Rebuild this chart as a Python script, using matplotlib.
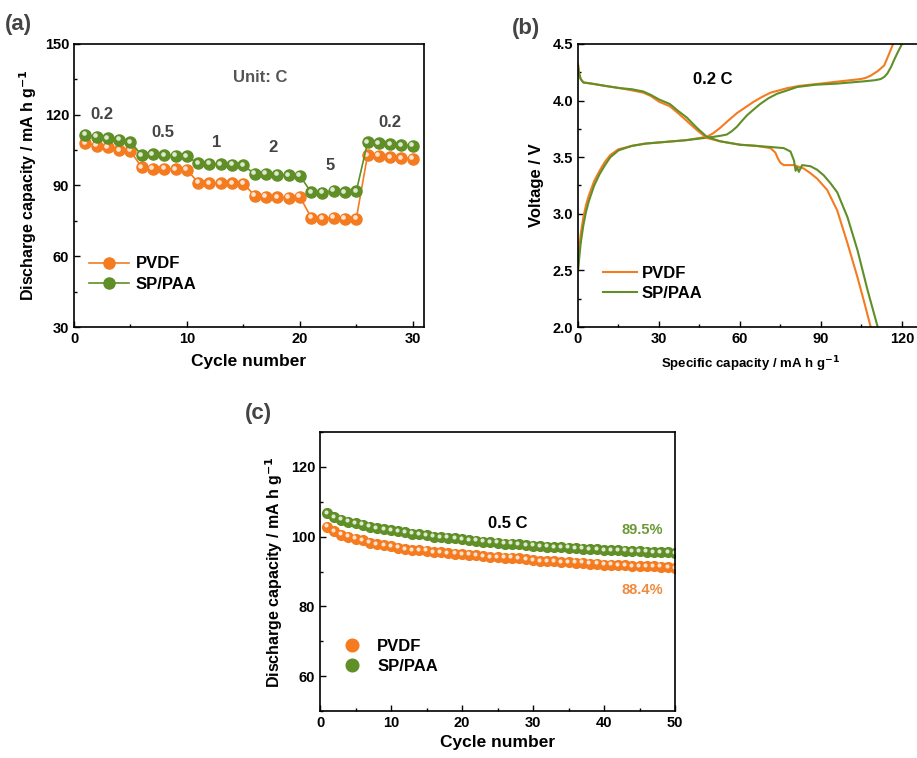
import numpy as np
import matplotlib
matplotlib.use('Agg')
import matplotlib.pyplot as plt
from matplotlib.transforms import ScaledTranslation
from matplotlib.ticker import MultipleLocator, FormatStrFormatter

plt.rcParams['font.family'] = ['Liberation Sans', 'DejaVu Sans']
plt.rcParams['font.weight'] = 'bold'
plt.rcParams['axes.labelweight'] = 'bold'
plt.rcParams['axes.linewidth'] = 1.2

ORANGE = '#F47B20'
GREEN = '#5F8F26'

# (a) rate capability
rate_cycles = np.arange(1, 31)
rate_pvdf = [107.9, 106.9, 106.2, 105.0, 104.6,
             97.7, 97.1, 97.1, 96.8, 96.7,
             91.2, 91.0, 90.9, 91.0, 90.8,
             85.7, 85.3, 85.0, 84.7, 85.3,
             76.4, 76.0, 76.4, 76.0, 75.9,
             102.9, 102.5, 102.0, 101.6, 101.3]
rate_sppaa = [111.4, 110.7, 110.0, 109.3, 108.4,
              102.9, 103.2, 102.8, 102.7, 102.3,
              99.4, 99.3, 99.0, 98.7, 98.5,
              94.9, 94.9, 94.6, 94.3, 94.2,
              87.1, 86.9, 87.8, 87.1, 87.5,
              108.3, 107.9, 107.5, 107.1, 106.9]
rate_labels = ['0.2', '0.5', '1', '2', '5', '0.2']
rate_label_x = [2.5, 7.9, 12.6, 17.6, 22.7, 28.0]
rate_label_y = [120.0, 112.4, 108.1, 106.0, 98.4, 116.8]

# (b) charge / discharge profiles at 0.2 C
chg_pvdf_cap = [0, 0.5, 1, 2, 3, 4, 6, 8, 10, 12, 15, 20, 25, 30, 40, 47.7,
                50, 52.7, 55.5, 58.9, 62, 65.1, 68, 71.3, 74.5, 77.5, 82, 89.8,
                97, 104.7, 106.5, 108.4, 111, 113.4, 115, 116.7]
chg_pvdf_v = [2.5, 2.70, 2.82, 2.97, 3.08, 3.16, 3.29, 3.38, 3.46, 3.52, 3.57,
              3.60, 3.62, 3.63, 3.65, 3.68, 3.71, 3.76, 3.82, 3.89, 3.94, 3.99,
              4.03, 4.07, 4.09, 4.11, 4.13, 4.15, 4.17, 4.19, 4.20, 4.22, 4.26,
              4.31, 4.40, 4.5]
chg_sp_cap = [0, 0.5, 1, 2, 3, 4, 6, 8, 10, 12, 15, 20, 25, 30, 40, 47, 50.2,
              53, 55.1, 57, 58.9, 60.7, 62.6, 65, 67.5, 70.5, 73.7, 77.5, 81.2,
              88, 96, 105.9, 110, 112.1, 113.5, 114.6, 116, 117.1, 118.5, 120]
chg_sp_v = [2.5, 2.62, 2.74, 2.90, 3.02, 3.11, 3.25, 3.35, 3.43, 3.50, 3.56,
            3.60, 3.62, 3.63, 3.65, 3.67, 3.68, 3.69, 3.70, 3.73, 3.77, 3.82,
            3.87, 3.92, 3.97, 4.02, 4.06, 4.09, 4.12, 4.14, 4.15, 4.17, 4.18,
            4.19, 4.21, 4.24, 4.30, 4.36, 4.43, 4.5]
dis_pvdf_cap = [0, 0.3, 1, 2, 5, 10, 15.5, 20, 24.2, 27, 30, 34, 37, 40.3, 44,
                47.7, 52.7, 60, 66, 71.3, 73.1, 74, 75, 76.2, 80, 83.6, 86,
                88.6, 92.3, 96, 99.8, 103.5, 106, 108.4]
dis_pvdf_v = [4.32, 4.25, 4.19, 4.16, 4.15, 4.13, 4.11, 4.09, 4.07, 4.04, 3.99,
              3.95, 3.89, 3.82, 3.74, 3.67, 3.64, 3.61, 3.60, 3.58, 3.54, 3.49,
              3.45, 3.43, 3.43, 3.40, 3.36, 3.31, 3.21, 3.03, 2.74, 2.44, 2.22,
              2.0]
dis_sp_cap = [0, 0.3, 1, 2, 5, 10, 15.5, 20, 24.2, 27, 30, 34, 37, 40.3, 44,
              47.7, 52.7, 60, 66, 71.3, 76.2, 78.7, 80, 80.6, 81.2, 81.8, 83,
              86.1, 88.5, 91, 93.5, 96, 99.8, 103.5, 107.2, 111]
dis_sp_v = [4.32, 4.25, 4.19, 4.16, 4.15, 4.13, 4.11, 4.10, 4.08, 4.05, 4.01,
            3.97, 3.91, 3.85, 3.76, 3.68, 3.64, 3.61, 3.60, 3.59, 3.58, 3.55,
            3.47, 3.38, 3.41, 3.37, 3.43, 3.42, 3.39, 3.34, 3.27, 3.19, 2.97,
            2.68, 2.33, 2.0]

# (c) cycling at 0.5 C
cyc_cycles = np.arange(1, 51)
cyc_pvdf = [102.9, 101.5, 100.6, 100.0, 99.4, 98.9, 98.3, 97.9, 97.6, 97.2,
            96.8, 96.5, 96.2, 96.1, 96.0, 95.6, 95.5, 95.2, 95.1, 95.0,
            94.8, 94.6, 94.4, 94.2, 94.1, 94.0, 94.0, 93.8, 93.5, 93.3,
            93.0, 92.9, 92.9, 92.7, 92.6, 92.5, 92.5, 92.3, 92.2, 92.0,
            92.0, 91.9, 91.8, 91.6, 91.6, 91.5, 91.5, 91.4, 91.2, 91.0]
cyc_sppaa = [106.8, 105.6, 104.9, 104.3, 103.8, 103.4, 102.9, 102.5, 102.2, 101.8,
             101.5, 101.2, 100.9, 100.7, 100.4, 100.0, 99.9, 99.7, 99.5, 99.2,
             99.0, 98.8, 98.6, 98.4, 98.3, 98.0, 98.0, 97.8, 97.6, 97.4,
             97.2, 97.1, 97.0, 96.9, 96.8, 96.7, 96.6, 96.5, 96.4, 96.2,
             96.1, 96.1, 96.0, 95.9, 95.8, 95.7, 95.6, 95.6, 95.5, 95.3]
retention = ['89.5%', '88.4%']


def ball(ax, x, y, color, ms, line=True, label=None):
    '''draw shaded spheres: solid disc plus a small offset highlight'''
    h, = ax.plot(x, y, linestyle='-' if line else 'none', color=color, lw=1.2,
                 marker='o', ms=ms, mec=color, mfc=color, label=label)
    shift = ScaledTranslation(-ms * 0.14 / 72, ms * 0.14 / 72,
                              ax.figure.dpi_scale_trans)
    ax.plot(x, y, linestyle='none', marker='o', ms=ms * 0.42, mec='none',
            mfc='white', alpha=0.8, transform=ax.transData + shift)
    return h


def style_axes(ax):
    ax.tick_params(which='both', direction='in', top=False, right=False,
                   labelsize=10.5)
    ax.tick_params(which='major', length=4, width=1.0)
    ax.tick_params(which='minor', length=2.5, width=1.0)
    for lab in ax.get_xticklabels() + ax.get_yticklabels():
        lab.set_fontweight('bold')


fig = plt.figure(figsize=(9.17, 7.58), dpi=100)

# ---- (a)
ax1 = fig.add_axes([0.0807, 0.5686, 0.3817, 0.3734])
h1 = ball(ax1, rate_cycles, rate_pvdf, ORANGE, 8, label='PVDF')
h2 = ball(ax1, rate_cycles, rate_sppaa, GREEN, 8, label='SP/PAA')
ax1.set_xlim(0, 31)
ax1.set_ylim(30, 150)
ax1.xaxis.set_major_locator(MultipleLocator(10))
ax1.xaxis.set_minor_locator(MultipleLocator(5))
ax1.yaxis.set_major_locator(MultipleLocator(30))
ax1.yaxis.set_minor_locator(MultipleLocator(15))
style_axes(ax1)
ax1.set_xlabel('Cycle number', fontsize=12.5, labelpad=6)
ax1.set_ylabel('Discharge capacity / mA h g$^{\\mathbf{-1}}$', fontsize=11.5,
               labelpad=4)
ax1.text(16.5, 135.6, 'Unit: C', fontsize=12, color='#555555',
         ha='center', va='center')
for t, tx, ty in zip(rate_labels, rate_label_x, rate_label_y):
    ax1.text(tx, ty, t, fontsize=12, color='#444444', ha='center', va='center')
ax1.legend(handles=[h1, h2], loc='lower left', bbox_to_anchor=(0.0, 0.07),
           frameon=False, fontsize=12, handlelength=2.4, handletextpad=0.4,
           labelspacing=0.35)
fig.text(0.005, 0.968, '(a)', fontsize=16, color='#444444', va='center')

# ---- (b)
ax2 = fig.add_axes([0.6303, 0.5686, 0.3769, 0.3734])
ax2.plot(chg_pvdf_cap, chg_pvdf_v, color=ORANGE, lw=1.5, label='PVDF')
ax2.plot(chg_sp_cap, chg_sp_v, color=GREEN, lw=1.5, label='SP/PAA')
ax2.plot(dis_pvdf_cap, dis_pvdf_v, color=ORANGE, lw=1.5)
ax2.plot(dis_sp_cap, dis_sp_v, color=GREEN, lw=1.5)
ax2.set_xlim(0, 128)
ax2.set_ylim(2.0, 4.5)
ax2.xaxis.set_major_locator(MultipleLocator(30))
ax2.xaxis.set_minor_locator(MultipleLocator(15))
ax2.yaxis.set_major_locator(MultipleLocator(0.5))
ax2.yaxis.set_minor_locator(MultipleLocator(0.25))
ax2.yaxis.set_major_formatter(FormatStrFormatter('%.1f'))
style_axes(ax2)
ax2.set_xlabel('Specific capacity / mA h g$^{\\mathbf{-1}}$', fontsize=9.5,
               labelpad=6)
ax2.set_ylabel('Voltage / V', fontsize=12, labelpad=6)
ax2.text(50, 4.19, '0.2 C', fontsize=12, color='black',
         ha='center', va='center')
ax2.legend(loc='lower left', bbox_to_anchor=(0.03, 0.04), frameon=False,
           fontsize=12, handlelength=2.0, handletextpad=0.3, labelspacing=0.3)
fig.text(0.558, 0.963, '(b)', fontsize=16, color='#444444', va='center')

# ---- (c)
ax3 = fig.add_axes([0.349, 0.062, 0.3871, 0.368])
h3 = ball(ax3, cyc_cycles, cyc_pvdf, ORANGE, 7, line=False, label='PVDF')
h4 = ball(ax3, cyc_cycles, cyc_sppaa, GREEN, 7, line=False, label='SP/PAA')
ax3.set_xlim(0, 50)
ax3.set_ylim(50, 130)
ax3.xaxis.set_major_locator(MultipleLocator(10))
ax3.xaxis.set_minor_locator(MultipleLocator(5))
ax3.yaxis.set_major_locator(MultipleLocator(20))
ax3.yaxis.set_minor_locator(MultipleLocator(10))
style_axes(ax3)
ax3.set_xlabel('Cycle number', fontsize=12.5, labelpad=4)
ax3.set_ylabel('Discharge capacity / mA h g$^{\\mathbf{-1}}$', fontsize=11.5,
               labelpad=4)
ax3.text(26.5, 103.9, '0.5 C', fontsize=12, color='black',
         ha='center', va='center')
ax3.text(45.4, 101.9, retention[0], fontsize=10.5, color='#6B9A35',
         ha='center', va='center')
ax3.text(45.4, 84.7, retention[1], fontsize=10.5, color='#F08A3C',
         ha='center', va='center')
ax3.legend(handles=[h3, h4], loc='lower left', bbox_to_anchor=(0.02, 0.08),
           frameon=False, fontsize=12, handlelength=1.2, handletextpad=0.9,
           labelspacing=0.3, markerscale=1.3)
fig.text(0.267, 0.455, '(c)', fontsize=16, color='#444444', va='center')

fig.savefig('out.png', dpi=100)
